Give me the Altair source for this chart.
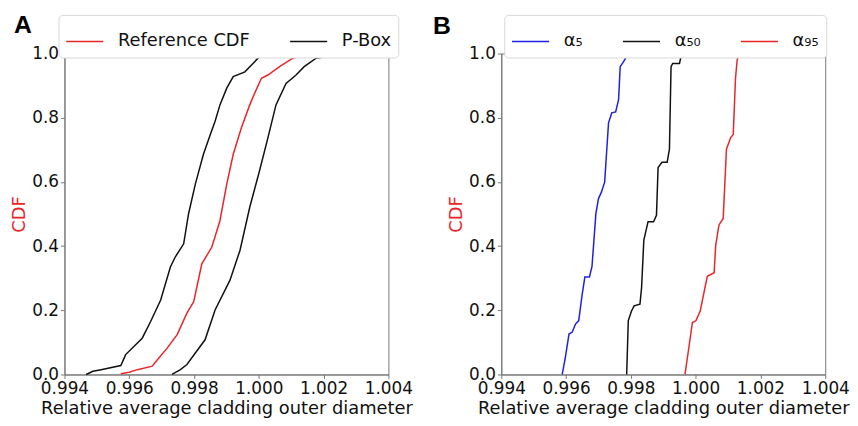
import altair as alt
import pandas as pd

# ---- Panel A data ----
A_LOW_X = [0.99467, 0.99488, 0.99513, 0.99574, 0.99589, 0.99615, 0.99640, 0.99666, 0.99697,
           0.99727, 0.99742, 0.99768, 0.99783, 0.99804, 0.99829, 0.99850, 0.99865, 0.99880,
           0.99901, 0.99921, 0.99957, 0.99982, 1.00002, 1.00033]
A_LOW_Y = [0.000, 0.010, 0.015, 0.028, 0.062, 0.088, 0.113, 0.165, 0.232,
           0.335, 0.366, 0.407, 0.500, 0.593, 0.686, 0.747, 0.789, 0.840,
           0.892, 0.928, 0.943, 0.969, 0.990, 1.000]
A_REF_X = [0.99574, 0.99600, 0.99625, 0.99671, 0.99692, 0.99717, 0.99748, 0.99778, 0.99799,
           0.99824, 0.99855, 0.99880, 0.99901, 0.99921, 0.99946, 0.99972, 0.99987, 1.00008,
           1.00028, 1.00064, 1.00104, 1.00145, 1.00191]
A_REF_Y = [0.002, 0.007, 0.015, 0.026, 0.052, 0.082, 0.124, 0.191, 0.227,
           0.345, 0.397, 0.479, 0.593, 0.686, 0.768, 0.840, 0.876, 0.923,
           0.933, 0.959, 0.985, 0.998, 1.000]
A_UP_X = [0.99732, 0.99758, 0.99778, 0.99804, 0.99834, 0.99865, 0.99911, 0.99942, 0.99972,
          1.00002, 1.00028, 1.00053, 1.00084, 1.00115, 1.00140, 1.00176, 1.00206, 1.00257]
A_UP_Y = [0.000, 0.015, 0.031, 0.067, 0.108, 0.201, 0.294, 0.387, 0.521,
          0.634, 0.737, 0.840, 0.907, 0.933, 0.959, 0.985, 0.990, 1.000]

# ---- Panel B data ----
B5_X = [0.99588, 0.99597, 0.99609, 0.99619, 0.99629, 0.99639, 0.99649, 0.99658, 0.99672,
        0.99680, 0.99692, 0.99700, 0.99709, 0.99719, 0.99731, 0.99741, 0.99753, 0.99762,
        0.99767, 0.99777, 0.99792]
B5_Y = [0.000, 0.049, 0.126, 0.132, 0.157, 0.168, 0.245, 0.304, 0.304,
        0.337, 0.502, 0.548, 0.568, 0.599, 0.784, 0.815, 0.818, 0.856,
        0.959, 0.974, 1.000]
B50_X = [0.99787, 0.99792, 0.99802, 0.99810, 0.99828, 0.99833, 0.99840, 0.99853, 0.99870,
         0.99879, 0.99884, 0.99896, 0.99912, 0.99919, 0.99924, 0.99929, 0.99950, 0.99957]
B50_Y = [0.000, 0.168, 0.198, 0.214, 0.219, 0.270, 0.419, 0.476, 0.476,
         0.496, 0.645, 0.661, 0.661, 0.702, 0.959, 0.969, 0.969, 1.000]
B95_X = [0.99967, 0.99977, 0.99990, 1.00001, 1.00014, 1.00036, 1.00057, 1.00062, 1.00072,
         1.00085, 1.00095, 1.00108, 1.00116, 1.00123, 1.00128, 1.00133]
B95_Y = [0.000, 0.070, 0.162, 0.168, 0.198, 0.306, 0.317, 0.404, 0.466,
         0.486, 0.702, 0.738, 0.748, 0.923, 0.979, 1.000]

X_TICKS = [0.994, 0.996, 0.998, 1.000, 1.002, 1.004]
Y_TICKS = [0.0, 0.2, 0.4, 0.6, 0.8, 1.0]
X_TITLE = "Relative average cladding outer diameter"
Y_TITLE = "CDF"

A_LEGEND = ["Reference CDF", "P-Box"]
A_COLORS = ["#e8262a", "#111111"]
B_LEGEND = ["α₅", "α₅₀", "α₉₅"]
B_COLORS = ["#2020e0", "#111111", "#e8262a"]

FONT = "DejaVu Sans"
W, H = 327, 324


def make_df(series):
    rows = []
    for curve, leg, xs, ys in series:
        for i, (x, y) in enumerate(zip(xs, ys)):
            rows.append({"curve": curve, "legend": leg, "x": x, "y": y, "i": i})
    return pd.DataFrame(rows)


dfA = make_df([
    ("low", "P-Box", A_LOW_X, A_LOW_Y),
    ("up", "P-Box", A_UP_X, A_UP_Y),
    ("ref", "Reference CDF", A_REF_X, A_REF_Y),
])
dfB = make_df([
    ("a5", B_LEGEND[0], B5_X, B5_Y),
    ("a50", B_LEGEND[1], B50_X, B50_Y),
    ("a95", B_LEGEND[2], B95_X, B95_Y),
])


def panel(df, dom, rng, letter, lx, ly, legx, legy, colpad):
    xenc = alt.X("x:Q", scale=alt.Scale(domain=[0.994, 1.004], nice=False, zero=False),
                 axis=alt.Axis(values=X_TICKS, format=".3f", title=X_TITLE,
                               labelOverlap=False, labelFlush=False))
    yenc = alt.Y("y:Q", scale=alt.Scale(domain=[0, 1], nice=False),
                 axis=alt.Axis(values=Y_TICKS, format=".1f", title=Y_TITLE, titleColor="#e8262a",
                               labelOverlap=False, labelFlush=False))
    lines = alt.Chart(df).mark_line(strokeWidth=1.5).encode(
        x=xenc, y=yenc,
        color=alt.Color("legend:N", scale=alt.Scale(domain=dom, range=rng),
                        legend=alt.Legend(title=None, orient="none", direction="horizontal",
                                          legendX=legx, legendY=legy,
                                          symbolType="stroke", symbolSize=1400,
                                          symbolStrokeWidth=1.5, labelFontSize=18,
                                          labelFont=FONT, labelColor="#111",
                                          labelOffset=14, columnPadding=colpad,
                                          strokeColor="#d8d8d8", cornerRadius=4,
                                          padding=7, fillColor="white")),
        detail="curve:N",
        order="i:Q",
    )
    lab = alt.Chart(pd.DataFrame({"t": [letter]})).mark_text(
        font="Liberation Sans", fontWeight="bold", fontSize=25, align="left",
        baseline="alphabetic", color="#000"
    ).encode(text="t:N", x=alt.value(lx), y=alt.value(ly))
    return alt.layer(lines, lab).properties(width=W, height=H)


pA = panel(dfA, A_LEGEND, A_COLORS, "A", -51, -21, -6, -39, 36)
pB = panel(dfB, B_LEGEND, B_COLORS, "B", -69, -20, 3, -39, 36)

chart = alt.hconcat(pA, pB, spacing=19).resolve_scale(color="independent").resolve_legend(
    color="independent"
).configure_view(stroke="#777", strokeWidth=1).configure_axis(
    grid=False, labelFont=FONT, titleFont=FONT, labelFontSize=17, titleFontSize=18,
    titleFontWeight="normal", labelColor="#111", titleColor="#111",
    domainColor="#777", tickColor="#777", tickSize=4, labelPadding=2, titlePadding=3,
).properties(padding={"left": 2, "top": 2, "right": 0, "bottom": 0})

chart.save("out.html", embed_options={"renderer": "svg", "actions": False})
